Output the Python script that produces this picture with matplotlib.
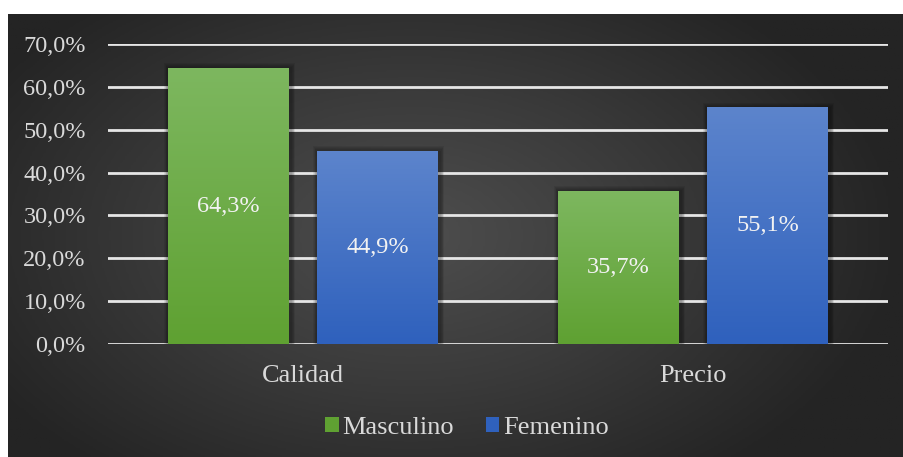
import numpy as np
import matplotlib.pyplot as plt
from matplotlib.colors import LinearSegmentedColormap
from matplotlib.patches import Rectangle

categories = ['Calidad', 'Precio']
masculino = [64.3, 35.7]
femenino = [44.9, 55.1]
series_names = ['Masculino', 'Femenino']
yticks = [0, 10, 20, 30, 40, 50, 60, 70]

plt.rcParams['font.family'] = ['Liberation Serif', 'DejaVu Serif']
txt = '#d9d9d9'
fs = 17.5

fig = plt.figure(figsize=(9.04, 4.57), dpi=100)
fig.patch.set_facecolor('white')

# dark radial background
bg = fig.add_axes([8 / 904, 0, 896 / 904, 443 / 457])
yy, xx = np.mgrid[-1:1:200j, -1:1:400j]
r = np.sqrt((xx + 0.1) ** 2 + (yy * 0.8) ** 2)
bg_cmap = LinearSegmentedColormap.from_list('bg', ['#4e4e4e', '#3a3a3a', '#242424'])
bg.imshow(np.clip(r, 0, 1.1), cmap=bg_cmap, vmin=0, vmax=1.1, aspect='auto',
          extent=[0, 1, 0, 1])
bg.set_axis_off()

ax = fig.add_axes([108 / 904, 1 - 344 / 457, 780 / 904, 300 / 457])
ax.patch.set_alpha(0)
ax.set_xlim(-0.5, 1.5)
ax.set_ylim(0, 70)

x = np.arange(len(categories))
w = 0.31
off = 0.191
grads = {
    'Masculino': ('#7db75f', '#5fa132'),
    'Femenino': ('#5c84cc', '#2f61bd'),
}

for gy in yticks:
    ax.axhline(gy, color='#e6e6e6', lw=2, zorder=1)

handles = []
for vals, name, dx in [(masculino, 'Masculino', -off), (femenino, 'Femenino', off)]:
    top_c, bot_c = grads[name]
    bars = ax.bar(x + dx, vals, w, color=bot_c, zorder=2, label=name)
    handles.append(bars)
    cmap = LinearSegmentedColormap.from_list(name, [bot_c, top_c])
    for b, v in zip(bars, vals):
        x0, bw, h = b.get_x(), b.get_width(), b.get_height()
        # soft shadow
        for k in range(1, 6):
            ax.add_patch(Rectangle((x0 - 0.002 * k, 0), bw + 0.004 * k + 0.006, h + 0.25 * k,
                                   color='black', alpha=0.07, zorder=1.5, lw=0))
        ax.imshow(np.linspace(1, 0, 100).reshape(-1, 1), cmap=cmap, aspect='auto',
                  extent=[x0, x0 + bw, 0, h], zorder=3)
        ax.text(x0 + bw / 2, h / 2, f'{v:.1f}%'.replace('.', ','), ha='center',
                va='center', color='#f2f2f2', fontsize=fs, zorder=4)

ax.set_xticks(x)
ax.set_xticklabels(categories, fontsize=19)
ax.set_yticks(yticks)
ax.set_yticklabels([f'{t:.1f}%'.replace('.', ',') for t in yticks])
ax.tick_params(length=0, colors=txt)
ax.tick_params(axis='y', labelsize=fs, pad=16)
ax.tick_params(axis='x', pad=15)
for s in ax.spines.values():
    s.set_visible(False)

leg = fig.legend(handles, series_names, loc='center', bbox_to_anchor=(467 / 904, 1 - 428 / 457),
                 ncol=2, frameon=False, fontsize=19, handlelength=0.5, handleheight=0.5,
                 handletextpad=0.15, columnspacing=1.2, labelcolor=txt)

fig.savefig('out.png', dpi=100)
